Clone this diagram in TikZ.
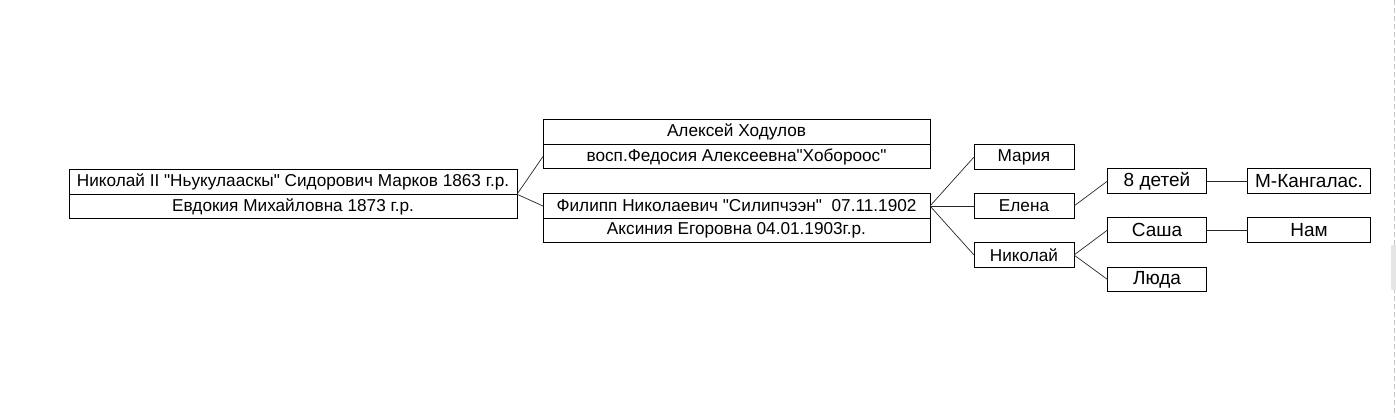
\documentclass[tikz,border=0pt]{standalone}
\usepackage{fontspec}
\setmainfont{Liberation Sans}[Ligatures=TeXOff]
\usetikzlibrary{positioning}

\begin{document}
\begin{tikzpicture}[x=1pt,y=-1pt,
  person/.style={draw,black,line width=.8pt,inner sep=0pt,outer sep=0pt,minimum height=\rh,font=\fontsize{17.2}{19}\selectfont},
  kid/.style={person,minimum width=100pt},
  grand/.style={person,minimum width=99pt,font=\fontsize{19}{21}\selectfont},
  link/.style={draw,black!85,line width=.7pt}]
\def\rh{24.5pt}
\def\wl{448pt}
\def\wm{387pt}
\useasboundingbox (0,0) rectangle (1396,416);
% parents
\node [person, minimum width=\wl, name=n1] at (293,182) {Николай II "Ньукулааскы" Сидорович Марков 1863 г.р.};
\node [person, minimum width=\wl, below=0pt of n1, name=n2] {Евдокия Михайловна 1873 г.р.};
% children
\node [person, minimum width=\wm, name=a1] at (736.5,132) {Алексей Ходулов};
\node [person, minimum width=\wm, below=0pt of a1, name=a2] {восп.Федосия Алексеевна"Хобороос"};
\node [person, minimum width=\wm, name=f1] at (736.5,206) {Филипп Николаевич "Силипчээн"~\ 07.11.1902};
\node [person, minimum width=\wm, below=0pt of f1, name=f2] {Аксиния Егоровна 04.01.1903г.р.};
% grandchildren
\node [kid, name=k1] at (1024,157) {Мария};
\node [kid, name=k2] at (1024,206) {Елена};
\node [kid, name=k3] at (1024,255) {Николай};
\node [grand, name=g1] at (1157,181) {8 детей};
\node [grand, name=g2] at (1157,230) {Саша};
\node [grand, name=g3] at (1157,279.5) {Люда};
\node [grand, minimum width=123pt, name=m1] at (1309,181) {М-Кангалас.};
\node [grand, minimum width=123pt, name=m2] at (1309,230) {Нам};
\draw [link] (n1.south east) -- (a2.west);
\draw [link] (n1.south east) -- (f1.west);
\draw [link] (f1.east) -- (k1.west);
\draw [link] (f1.east) -- (k2.west);
\draw [link] (f1.east) -- (k3.west);
\draw [link] (k2.east) -- (g1.west);
\draw [link] (k3.east) -- (g2.west);
\draw [link] (k3.east) -- (g3.west);
\draw [link] (g1) -- (m1);
\draw [link] (g2) -- (m2);
% page edge
\draw [gray!45, line width=.6pt, dash pattern=on 5pt off 3pt] (1394,0) -- (1394,416);
\fill [gray!20, rounded corners=1pt] (1391,245) rectangle (1396,290);
\end{tikzpicture}
\end{document}
